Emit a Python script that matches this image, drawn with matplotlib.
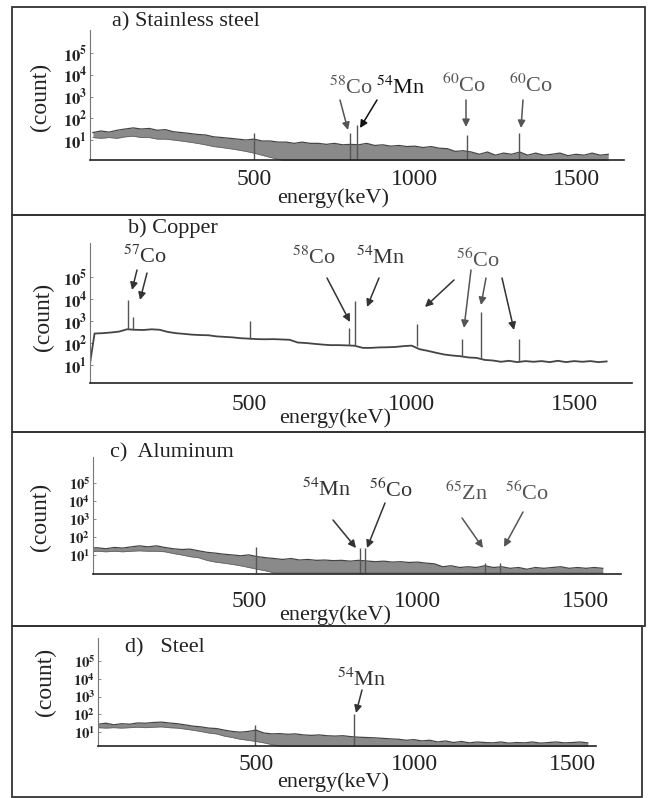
import matplotlib
matplotlib.use('Agg')
import matplotlib.pyplot as plt
from matplotlib.patches import Rectangle

plt.rcParams['font.family'] = ['Liberation Serif', 'DejaVu Serif']
plt.rcParams['mathtext.fontset'] = 'stix'

W, H = 654, 798

# energy grid (keV) shared by the spectra
energy = [0, 25, 50, 75, 100, 125, 150, 175, 200, 225, 250, 275, 300, 325, 350, 375,
          400, 425, 450, 475, 500, 525, 550, 575, 600, 625, 650, 675, 700, 725, 750, 775,
          800, 825, 850, 875, 900, 925, 950, 975, 1000, 1025, 1050, 1075, 1100, 1125, 1150,
          1175, 1200, 1225, 1250, 1275, 1300, 1325, 1350, 1375, 1400, 1425, 1450, 1475,
          1500, 1525, 1550, 1575, 1600]

# a) stainless steel: upper / lower edge of the noisy band (counts)
steel_ss_hi = [22, 26, 23, 28, 32, 36, 32, 34, 28, 30, 24, 22, 20, 18, 17, 14, 13, 12, 11, 10,
               11, 9, 9, 8, 8, 7, 8, 7, 7, 6.3, 7, 6, 6.3, 6, 7, 5.6, 6, 5.2, 5.6, 5,
               5.2, 4.5, 5, 4.2, 4, 3, 3.2, 2.8, 2.2, 2.8, 2, 2.5, 2.2, 2.8, 2, 2.5, 2, 2.2,
               2.5, 1.9, 2.2, 2, 2.5, 2, 2.2]
steel_ss_lo = [13, 12, 13, 12, 14, 15, 13, 13, 11, 11, 10, 9, 8, 7, 6, 5, 4.5, 4, 3.5, 3,
               2.5, 2, 1.6, 1.3, 1, 1, 1, 1, 1, 1, 1, 1, 1, 1, 1, 1, 1, 1, 1, 1,
               1, 1, 1, 1, 1, 1, 1, 1, 1, 1, 1, 1, 1, 1, 1, 1, 1, 1, 1, 1, 1, 1, 1, 1, 1]
steel_ss_peak_e = [500, 798, 820, 1161, 1323]
steel_ss_peak_c = [20, 21, 50, 17, 21]

# b) copper: continuum (counts)
copper = [1, 270, 280, 300, 330, 420, 400, 390, 420, 400, 320, 280, 260, 240, 230, 225,
          200, 190, 180, 165, 158, 150, 148, 150, 145, 140, 105, 100, 92, 85, 80, 80,
          78, 75, 60, 60, 63, 64, 66, 72, 76, 52, 44, 36, 30, 27, 25,
          22, 21, 17, 16, 14, 15.5, 13.5, 15, 14, 15, 13.5, 15.5, 13.5,
          15, 14, 15, 13.5, 14.5]
copper_peak_e = [128, 143, 503, 808, 826, 1017, 1155, 1214, 1331]
copper_peak_c = [9000, 1600, 1000, 500, 8000, 700, 160, 2500, 160]
copper_peak_base = [420, 400, 158, 78, 75, 76, 25, 21, 14]

# c) aluminum
alu_hi = [22, 24, 25, 22, 26, 24, 28, 32, 28, 32, 26, 22, 20, 21, 17, 14, 12.6, 11, 10, 9,
          10, 8, 7, 6.3, 5.6, 6.3, 5.2, 5.6, 5, 5.2, 4.8, 5, 4.5, 5, 4.6, 4.2, 4.5, 4, 4.2, 3.8,
          4, 3.5, 3.2, 2.2, 2.5, 2, 2.2, 2, 2.5, 2, 2.2, 1.8, 2, 1.6, 2, 1.8, 2, 2.2, 1.8, 2,
          1.8, 2, 1.8]
alu_lo = [15, 15, 16, 15, 16, 15, 16, 17, 16, 16, 15, 12, 10, 8, 7, 5, 4, 3.5, 3, 2.5,
          2, 1.6, 1.3, 1, 1, 1, 1, 1, 1, 1, 1, 1, 1, 1, 1, 1, 1, 1, 1, 1,
          1, 1, 1, 1, 1, 1, 1, 1, 1, 1, 1, 1, 1, 1, 1, 1, 1, 1, 1, 1, 1, 1, 1]
alu_peak_e = [520, 830, 845, 1200, 1245]
alu_peak_c = [28, 25, 25, 3.5, 3.5]

# d) steel
steel_hi = [28, 32, 26, 30, 28, 33, 32, 35, 37, 33, 30, 26, 22, 20, 17, 16, 13, 11, 10, 11,
            13, 9, 8, 8.3, 7.6, 8, 7, 6.6, 7, 6.3, 6, 6.3, 5.6, 5.2, 5, 4.8, 4.5, 4.2, 4, 3.5,
            3.8, 3.2, 3.5, 2.8, 3.2, 2.6, 3, 2.5, 2.8, 2.6, 2.5, 2.8, 2.4, 2.6, 2.5, 2.8, 2.4,
            2.6, 2.8, 2.5, 2.6, 2.8, 2.5]
steel_lo = [18, 17, 18, 17, 18, 19, 18, 19, 20, 18, 17, 15, 13, 11, 9, 8, 6, 5, 4, 3.5,
            3, 2.5, 2, 1.7, 1, 1, 1, 1, 1, 1, 1, 1, 1, 1, 1, 1, 1, 1, 1, 1,
            1, 1, 1, 1, 1, 1, 1, 1, 1, 1, 1, 1, 1, 1, 1, 1, 1, 1, 1, 1, 1, 1, 1]
steel_peak_e = [497, 810]
steel_peak_c = [25, 100]

xticks = [500, 1000, 1500]
yticks = [1e1, 1e2, 1e3, 1e4, 1e5]
ytick_labels = [r'$\mathbf{10^{1}}$', r'$\mathbf{10^{2}}$', r'$\mathbf{10^{3}}$',
                r'$\mathbf{10^{4}}$', r'$\mathbf{10^{5}}$']


def fp(x, y):
    # pixel position -> figure fraction
    return (x / W, 1 - y / H)


fig = plt.figure(figsize=(W / 100, H / 100), dpi=100)


def make_axes(x0, top, x1, base, xlim, ylim, pad, yfs):
    ax = fig.add_axes([x0 / W, 1 - base / H, (x1 - x0) / W, (base - top) / H])
    ax.set_yscale('log')
    ax.set_xlim(*xlim)
    ax.set_ylim(*ylim)
    ax.set_facecolor('none')
    for s in ['top', 'right']:
        ax.spines[s].set_visible(False)
    ax.spines['left'].set_color('#777777')
    ax.spines['left'].set_linewidth(0.8)
    ax.spines['bottom'].set_color('#222222')
    ax.spines['bottom'].set_linewidth(1.2)
    ax.set_xticks(xticks)
    ax.set_xticklabels([str(t) for t in xticks], fontsize=17, color='#222222')
    ax.tick_params(axis='x', length=0, pad=pad)
    ax.set_yticks(yticks)
    ax.set_yticklabels(ytick_labels, fontsize=yfs, color='#222222')
    ax.yaxis.set_minor_locator(matplotlib.ticker.NullLocator())
    ax.tick_params(axis='y', length=2, width=0.6, direction='in', pad=2, color='#777777')
    return ax


def band(ax, hi, lo):
    e = energy[:len(hi)]
    ax.fill_between(e, lo, hi, color='#8a8a8a', lw=0)
    ax.plot(e, hi, color='#454545', lw=0.9)
    ax.plot(e, lo, color='#666666', lw=0.6)


def arrow(tail, tip, color='#333333'):
    fig.add_artist(matplotlib.patches.FancyArrowPatch(
        fp(*tail), fp(*tip), transform=fig.transFigure, arrowstyle='-|>',
        mutation_scale=11, color=color, lw=1.1, shrinkA=0, shrinkB=0))


def label(x, y, txt, color='#333333'):
    fig.text(*fp(x, y), txt, fontsize=16, color=color, ha='center', va='center')


def frame(x0, y0, x1, y1):
    fig.add_artist(Rectangle(fp(x0, y1), (x1 - x0) / W, (y1 - y0) / H, transform=fig.transFigure,
                             fill=False, ec='#333333', lw=1.3))


# ---- a) Stainless steel
ax = make_axes(90, 30, 624, 160, (-9, 1649), (10 ** 0.08, 10 ** 6.06), 6.5, 12)
band(ax, steel_ss_hi, steel_ss_lo)
ax.vlines(steel_ss_peak_e, 1, steel_ss_peak_c, color='#555555', lw=1.0)
frame(12, 7, 645, 215)
fig.text(*fp(112, 22), 'a) Stainless steel', fontsize=16, va='center', color='#222222')
fig.text(*fp(40, 97), '(count)', fontsize=17, rotation=90, ha='center', va='center', color='#222222')
fig.text(*fp(333, 198), 'energy(keV)', fontsize=16, ha='center', va='center', color='#222222')
label(351, 88, r'$^{58}$Co', '#555555')
label(401, 88, r'$^{54}$Mn', '#111111')
label(464, 85, r'$^{60}$Co', '#555555')
label(531, 85, r'$^{60}$Co', '#555555')
arrow((340, 100), (348, 130), '#555555')
arrow((377, 100), (360, 128), '#111111')
arrow((466, 100), (466, 127), '#555555')
arrow((523, 100), (521, 128), '#555555')

# ---- b) Copper
ax = make_axes(90, 243, 632, 383, (11, 1678), (10 ** 0.18, 10 ** 6.55), 8, 12)
ax.plot(energy[:len(copper)], copper, color='#444444', lw=1.3)
ax.vlines(copper_peak_e, copper_peak_base, copper_peak_c, color='#555555', lw=1.0)
frame(12, 215, 645, 432)
fig.text(*fp(128, 228), 'b) Copper', fontsize=16, va='center', color='#222222')
fig.text(*fp(43, 317), '(count)', fontsize=17, rotation=90, ha='center', va='center', color='#222222')
fig.text(*fp(335, 418), 'energy(keV)', fontsize=16, ha='center', va='center', color='#222222')
label(145, 257, r'$^{57}$Co')
label(314, 258, r'$^{58}$Co', '#444444')
label(381, 258, r'$^{54}$Mn')
label(478, 260, r'$^{56}$Co', '#555555')
arrow((137, 270), (132, 290))
arrow((147, 273), (140, 300))
arrow((327, 278), (350, 322))
arrow((379, 278), (367, 307))
arrow((454, 280), (425, 307))
arrow((471, 270), (464, 328), '#555555')
arrow((486, 278), (481, 305), '#555555')
arrow((502, 278), (514, 330))

# ---- c) Aluminum
ax = make_axes(93, 457, 621, 574, (37, 1604), (10 ** -0.06, 10 ** 6.44), 12, 10.5)
band(ax, alu_hi, alu_lo)
ax.vlines(alu_peak_e, 1, alu_peak_c, color='#555555', lw=1.0)
frame(12, 432, 645, 626)
fig.text(*fp(110, 453), 'c)  Aluminum', fontsize=16, va='center', color='#222222')
fig.text(*fp(40, 517), '(count)', fontsize=17, rotation=90, ha='center', va='center', color='#222222')
fig.text(*fp(335, 615), 'energy(keV)', fontsize=16, ha='center', va='center', color='#222222')
label(327, 490, r'$^{54}$Mn')
label(391, 490, r'$^{56}$Co')
label(467, 493, r'$^{65}$Zn', '#555555')
label(527, 493, r'$^{56}$Co', '#555555')
arrow((333, 520), (356, 548))
arrow((385, 503), (367, 548))
arrow((462, 518), (483, 548), '#555555')
arrow((523, 512), (504, 547), '#555555')

# ---- d) Steel
ax = make_axes(98, 638, 596, 746, (0, 1576), (10 ** 0.22, 10 ** 6.31), 6, 10.5)
band(ax, steel_hi, steel_lo)
ax.vlines(steel_peak_e, 1, steel_peak_c, color='#555555', lw=1.0)
frame(12, 626, 642, 797)
fig.text(*fp(125, 648), 'd)   Steel', fontsize=16, va='center', color='#222222')
fig.text(*fp(45, 682), '(count)', fontsize=17, rotation=90, ha='center', va='center', color='#222222')
fig.text(*fp(333, 782), 'energy(keV)', fontsize=16, ha='center', va='center', color='#222222')
label(362, 680, r'$^{54}$Mn')
arrow((362, 690), (356, 713))

fig.savefig('out.png', dpi=100)
